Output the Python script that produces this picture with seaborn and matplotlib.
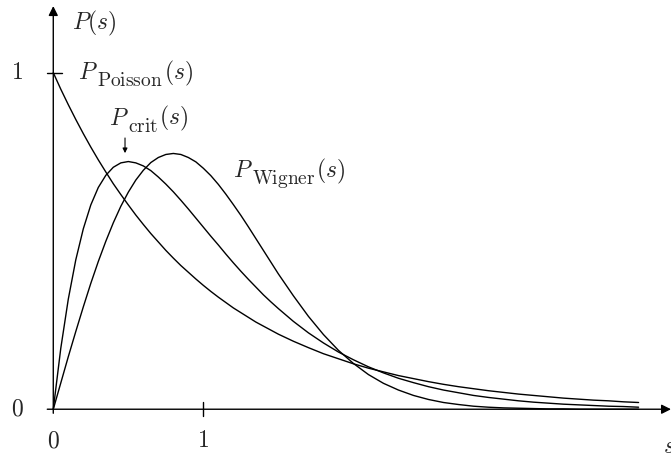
import matplotlib
matplotlib.use('Agg')
import matplotlib.pyplot as plt
import seaborn as sns
import pandas as pd

# level spacing distributions
s = [0.00, 0.05, 0.10, 0.15, 0.20, 0.25, 0.30, 0.35, 0.40, 0.45,
     0.50, 0.55, 0.60, 0.65, 0.70, 0.75, 0.80, 0.85, 0.90, 0.95,
     1.00, 1.05, 1.10, 1.15, 1.20, 1.25, 1.30, 1.35, 1.40, 1.45,
     1.50, 1.60, 1.70, 1.80, 1.90, 2.00, 2.10, 2.20, 2.30, 2.40,
     2.50, 2.60, 2.70, 2.80, 2.90, 3.00, 3.10, 3.20, 3.30, 3.40,
     3.50, 3.60, 3.70, 3.80, 3.90]

p_poisson = [1.000, 0.951, 0.905, 0.861, 0.819, 0.779, 0.741, 0.705, 0.670, 0.638,
             0.607, 0.577, 0.549, 0.522, 0.497, 0.472, 0.449, 0.427, 0.407, 0.387,
             0.368, 0.350, 0.333, 0.317, 0.301, 0.287, 0.273, 0.259, 0.247, 0.235,
             0.223, 0.202, 0.183, 0.165, 0.150, 0.135, 0.122, 0.111, 0.100, 0.091,
             0.082, 0.074, 0.067, 0.061, 0.055, 0.050, 0.045, 0.041, 0.037, 0.033,
             0.030, 0.027, 0.025, 0.022, 0.020]

p_crit = [0.000, 0.181, 0.327, 0.444, 0.536, 0.607, 0.659, 0.695, 0.719, 0.732,
          0.736, 0.732, 0.723, 0.709, 0.690, 0.669, 0.646, 0.621, 0.595, 0.568,
          0.541, 0.514, 0.488, 0.461, 0.435, 0.410, 0.386, 0.363, 0.340, 0.319,
          0.299, 0.261, 0.227, 0.197, 0.170, 0.147, 0.126, 0.108, 0.092, 0.079,
          0.067, 0.057, 0.049, 0.041, 0.035, 0.030, 0.025, 0.021, 0.018, 0.015,
          0.013, 0.011, 0.009, 0.008, 0.006]

p_wigner = [0.000, 0.078, 0.156, 0.231, 0.304, 0.374, 0.439, 0.499, 0.554, 0.603,
            0.645, 0.681, 0.710, 0.733, 0.748, 0.757, 0.760, 0.757, 0.748, 0.735,
            0.716, 0.694, 0.668, 0.639, 0.608, 0.576, 0.542, 0.507, 0.472, 0.437,
            0.402, 0.337, 0.276, 0.222, 0.175, 0.136, 0.103, 0.077, 0.057, 0.041,
            0.029, 0.020, 0.014, 0.009, 0.006, 0.004, 0.003, 0.002, 0.001, 0.001,
            0.000, 0.000, 0.000, 0.000, 0.000]

df = pd.DataFrame({'s': s * 3,
                   'P': p_poisson + p_crit + p_wigner,
                   'dist': ['poisson'] * len(s) + ['crit'] * len(s) + ['wigner'] * len(s)})

sns.set_theme(style='white')
plt.rcParams['mathtext.fontset'] = 'cm'
plt.rcParams['font.family'] = ['DejaVu Serif']

fig = plt.figure(figsize=(6.71, 4.55), dpi=100)
ax = fig.add_axes([0, 0, 1, 1])

sns.lineplot(data=df, x='s', y='P', units='dist', estimator=None, color='black',
             linewidth=1.0, sort=False, ax=ax)

ax.set_xlim(-0.355, 4.116)
ax.set_ylim(-0.136, 1.216)
ax.axis('off')

# axes with arrow heads
ax.annotate('', xy=(4.116, 0), xytext=(-0.04, 0),
            arrowprops=dict(arrowstyle='-|>', color='black', lw=1.0,
                            mutation_scale=14, shrinkA=0, shrinkB=0))
ax.annotate('', xy=(0, 1.198), xytext=(0, -0.012),
            arrowprops=dict(arrowstyle='-|>', color='black', lw=1.0,
                            mutation_scale=14, shrinkA=0, shrinkB=0))
ax.plot([-0.042, 0.058], [1, 1], color='black', lw=1.0)
ax.plot([1, 1], [-0.02, 0.022], color='black', lw=1.0)

fs = 17
sub_fs = 14

ax.text(-0.242, 1.0, r'$1$', fontsize=fs, ha='center', va='center')
ax.text(-0.242, 0.0, r'$0$', fontsize=fs, ha='center', va='center')
ax.text(0, -0.093, r'$0$', fontsize=fs, ha='center', va='center')
ax.text(1, -0.093, r'$1$', fontsize=fs, ha='center', va='center')
ax.text(4.065, -0.112, r'$s$', fontsize=fs, ha='left', va='center')

ax.text(0.125, 1.128, r'$P(s)$', fontsize=fs, ha='left', va='baseline')


def label(x, y, sub):
    # P, then a large roman subscript, then (s) back on the baseline
    p = ax.text(x, y, r'$P$', fontsize=fs, ha='left', va='baseline')
    t = ax.annotate(r'$\mathrm{%s}$' % sub, xy=(1, y), xycoords=(p, 'data'),
                    xytext=(-0.5, -5), textcoords='offset points',
                    fontsize=sub_fs, ha='left', va='baseline')
    ax.annotate(r'$(s)$', xy=(1, y), xycoords=(t, 'data'),
                xytext=(0.5, 0), textcoords='offset points',
                fontsize=fs, ha='left', va='baseline')


label(0.165, 0.981, 'Poisson')
label(0.371, 0.845, 'crit')
label(1.198, 0.690, 'Wigner')

ax.annotate('', xy=(0.478, 0.761), xytext=(0.478, 0.806),
            arrowprops=dict(arrowstyle='-|>', color='black', lw=0.8,
                            mutation_scale=7, shrinkA=0, shrinkB=0))

fig.savefig('out.png', dpi=100)
